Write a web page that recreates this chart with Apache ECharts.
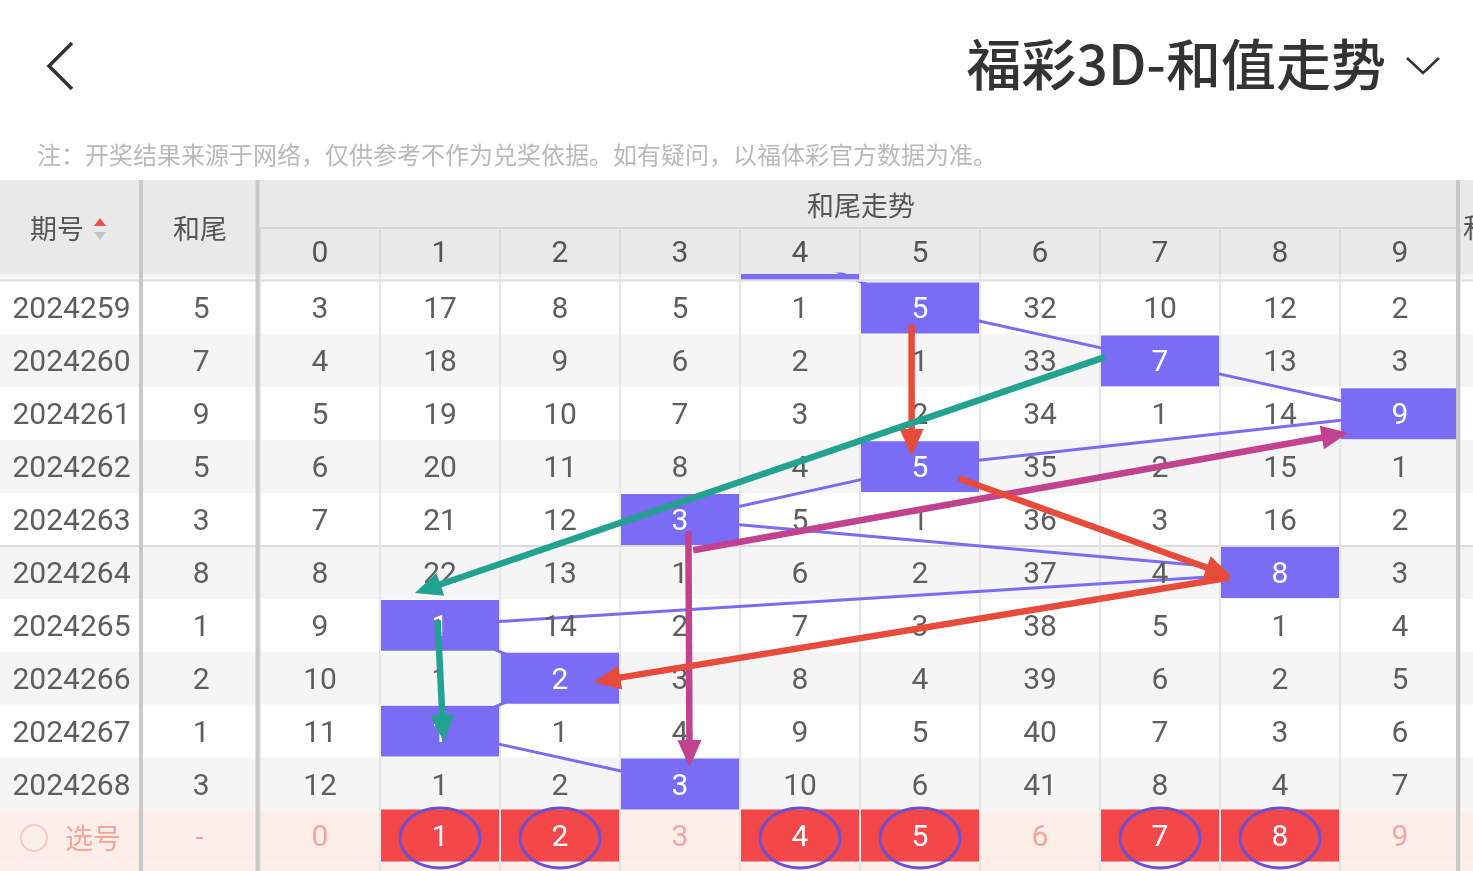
<!DOCTYPE html>
<html>
<head>
<meta charset="utf-8">
<script src="https://cdn.jsdelivr.net/npm/echarts@6/dist/echarts.min.js"></script>
<style>
  html, body { margin: 0; padding: 0; background: #fff; }
  #chart { width: 1473px; height: 871px; }
</style>
</head>
<body>
<div id="chart"></div>
<script>
// first row (2024258) sits under the sticky header, only its bottom edge peeks out
const issues = ['2024258', '2024259', '2024260', '2024261', '2024262', '2024263',
  '2024264', '2024265', '2024266', '2024267', '2024268'];
const tails = [4, 5, 7, 9, 5, 3, 8, 1, 2, 1, 3];
const omissions = [
  [2, 16, 7, 4, 4, 4, 31, 9, 11, 1],
  [3, 17, 8, 5, 1, 5, 32, 10, 12, 2],
  [4, 18, 9, 6, 2, 1, 33, 7, 13, 3],
  [5, 19, 10, 7, 3, 2, 34, 1, 14, 9],
  [6, 20, 11, 8, 4, 5, 35, 2, 15, 1],
  [7, 21, 12, 3, 5, 1, 36, 3, 16, 2],
  [8, 22, 13, 1, 6, 2, 37, 4, 8, 3],
  [9, 1, 14, 2, 7, 3, 38, 5, 1, 4],
  [10, 1, 2, 3, 8, 4, 39, 6, 2, 5],
  [11, 1, 1, 4, 9, 5, 40, 7, 3, 6],
  [12, 1, 2, 3, 10, 6, 41, 8, 4, 7]
];
const digitLabels = ['0', '1', '2', '3', '4', '5', '6', '7', '8', '9'];
const picked = [1, 2, 4, 5, 7, 8];
// hand-drawn arrows, in [column, row] units of the trend grid
const arrows = [
  { from: [5.43, 1.82], to: [5.43, 4.3], color: '#e84b39' },
  { from: [7.04, 2.43], to: [1.29, 6.89], color: '#22a291' },
  { from: [1.48, 7.4], to: [1.53, 9.7], color: '#22a291' },
  { from: [3.61, 6.08], to: [9.07, 3.86], color: '#c1428f' },
  { from: [3.57, 5.72], to: [3.58, 10.18], color: '#c1428f' },
  { from: [5.82, 4.72], to: [8.1, 6.58], color: '#e84b39' },
  { from: [8.07, 6.6], to: [2.78, 8.57], color: '#e84b39' }
];

const PICK_ROW = 11;
const numFont = 'Roboto, "Noto Sans", sans-serif';
const cjkFont = '"Noto Sans CJK SC", "Noto Sans", sans-serif';
const textGray = '#5e5e5e';

const chart = echarts.init(document.getElementById('chart'), null, { renderer: 'canvas' });

const rowIds = [];
for (let r = 0; r <= 12; r++) rowIds.push([0, r]);

function stripeItem(extend) {
  return function (params, api) {
    const r = api.value(1);
    const cs = params.coordSys;
    const top = Math.max(api.coord([0, r])[1], cs.y);
    const bottom = Math.min(api.coord([0, r + 1])[1], cs.y + cs.height);
    if (bottom <= top) return;
    const fill = r >= PICK_ROW ? '#fdeeea' : (r % 2 ? '#ffffff' : '#f5f5f5');
    const w = cs.width + extend;
    const children = [{ type: 'rect', shape: { x: cs.x, y: top, width: w, height: bottom - top }, style: { fill: fill } }];
    if (r === 6) {
      children.push({ type: 'line', shape: { x1: cs.x, y1: top, x2: cs.x + w, y2: top }, style: { stroke: '#dcdcdc', lineWidth: 2 } });
    }
    return { type: 'group', children: children };
  };
}

function txt(x, y, s, color, size, family) {
  return {
    type: 'text', x: x, y: y,
    style: { text: s, fill: color, fontSize: size, fontFamily: family, align: 'center', verticalAlign: 'middle' }
  };
}

const cellData = [];
omissions.forEach((row, r) => row.forEach((v, d) => cellData.push([d, r, v])));

function cellItem(params, api) {
  const d = api.value(0), r = api.value(1), v = api.value(2);
  const p0 = api.coord([d, r]), p1 = api.coord([d + 1, r + 1]);
  const hit = tails[r] === d;
  const children = [];
  if (hit) {
    children.push({ type: 'rect', shape: { x: p0[0] + 1, y: p0[1] + 1, width: p1[0] - p0[0] - 2, height: p1[1] - p0[1] - 2 }, style: { fill: '#7b6cf6' } });
  }
  children.push(txt((p0[0] + p1[0]) / 2, (p0[1] + p1[1]) / 2 + 3, String(v), hit ? '#ffffff' : textGray, 30, numFont));
  return { type: 'group', children: children };
}

function pickItem(params, api) {
  const d = api.value(0);
  const p0 = api.coord([d, PICK_ROW]), p1 = api.coord([d + 1, PICK_ROW + 1]);
  const on = picked.indexOf(d) >= 0;
  const children = [];
  if (on) {
    children.push({ type: 'rect', shape: { x: p0[0] + 1, y: p0[1] - 1, width: p1[0] - p0[0] - 2, height: p1[1] - p0[1] - 1 }, style: { fill: '#f4474a' } });
  }
  children.push(txt((p0[0] + p1[0]) / 2, (p0[1] + p1[1]) / 2 + 2, digitLabels[d], on ? '#ffffff' : '#f5a59c', 30, numFont));
  return { type: 'group', children: children };
}

function ringItem(params, api) {
  const d = api.value(0);
  const c = api.coord([d + 0.5, PICK_ROW + 0.5]);
  return { type: 'ellipse', shape: { cx: c[0], cy: c[1] + 1, rx: 40, ry: 30 }, style: { fill: 'none', stroke: '#6b4fd0', lineWidth: 3 } };
}

function arrowItem(params, api) {
  const a = api.coord([api.value(0), api.value(1)]);
  const b = api.coord([api.value(2), api.value(3)]);
  const color = arrows[params.dataIndex].color;
  const dx = b[0] - a[0], dy = b[1] - a[1];
  const len = Math.sqrt(dx * dx + dy * dy);
  const ux = dx / len, uy = dy / len;
  const head = 27, half = 12;
  const bx = b[0] - ux * head, by = b[1] - uy * head;
  return {
    type: 'group',
    children: [
      { type: 'line', shape: { x1: a[0], y1: a[1], x2: bx + ux * 2, y2: by + uy * 2 }, style: { stroke: color, lineWidth: 6.5 } },
      { type: 'polygon', shape: { points: [[b[0], b[1]], [bx - uy * half, by + ux * half], [bx + uy * half, by - ux * half]] }, style: { fill: color } }
    ]
  };
}

function leftItem(kind) {
  return function (params, api) {
    const r = api.value(1);
    const cs = params.coordSys;
    const p0 = api.coord([0, r]), p1 = api.coord([1, r + 1]);
    const cy = (p0[1] + p1[1]) / 2 + 3;
    if (r === PICK_ROW) {
      if (kind === 'issue') {
        return {
          type: 'group', children: [
            { type: 'circle', shape: { cx: cs.x + 34, cy: cy - 2, r: 13 }, style: { fill: 'none', stroke: '#f8c9c3', lineWidth: 2 } },
            txt(cs.x + 93, cy - 2, '选号', '#f4a59c', 28, cjkFont)
          ]
        };
      }
      return txt((p0[0] + p1[0]) / 2, cy - 1, '-', '#f4a59c', 28, numFont);
    }
    const s = kind === 'issue' ? issues[r] : String(tails[r]);
    return txt((p0[0] + p1[0]) / 2 + 2, cy, s, textGray, 30, numFont);
  };
}

const rowAxis = (i) => ({ type: 'value', gridIndex: i, inverse: true, min: 0.858, max: 12.144, show: false });
const colAxis = (i, max) => ({
  type: 'value', gridIndex: i, min: 0, max: max, interval: 1,
  axisLine: { show: false }, axisTick: { show: false }, axisLabel: { show: false },
  splitLine: { show: i === 2, lineStyle: { color: '#e0e0e0', width: 1.5 } }
});

const leftRows = [];
for (let r = 0; r <= PICK_ROW; r++) leftRows.push([0, r]);

const option = {
  backgroundColor: '#ffffff',
  animation: false,
  grid: [
    { left: 0, top: 274, width: 139, height: 597 },
    { left: 143, top: 274, width: 112.5, height: 597 },
    { left: 260, top: 274, width: 1200, height: 597 },
    { left: 260, top: 228, width: 1200, height: 46 }
  ],
  xAxis: [
    colAxis(0, 1), colAxis(1, 1), colAxis(2, 10),
    {
      type: 'category', gridIndex: 3, position: 'top', data: digitLabels,
      axisLine: { show: false }, axisTick: { show: false },
      axisLabel: { inside: true, interval: 0, margin: 11, fontSize: 30, color: '#555', fontFamily: numFont },
      splitLine: { show: true, interval: 0, lineStyle: { color: '#d4d4d4', width: 1.5 } }
    }
  ],
  yAxis: [rowAxis(0), rowAxis(1), rowAxis(2), { type: 'value', gridIndex: 3, show: false }],
  graphic: [
    { type: 'rect', z: -10, shape: { x: 0, y: 180, width: 1473, height: 94 }, style: { fill: '#e9e9e9' } },
    { type: 'line', z: 50, shape: { x1: 0, y1: 280.5, x2: 1473, y2: 280.5 }, style: { stroke: '#e2e2e2', lineWidth: 2.5 } },
    { type: 'line', z: 50, shape: { x1: 260, y1: 228, x2: 1460, y2: 228 }, style: { stroke: '#d6d6d6', lineWidth: 2 } },
    { type: 'rect', z: 50, shape: { x: 139, y: 180, width: 4, height: 691 }, style: { fill: '#c9c9c9' } },
    { type: 'rect', z: 50, shape: { x: 255.5, y: 180, width: 4, height: 691 }, style: { fill: '#c9c9c9' } },
    { type: 'rect', z: 50, shape: { x: 1456, y: 180, width: 4, height: 691 }, style: { fill: '#c9c9c9' } },
    { type: 'polyline', z: 50, shape: { points: [[72, 43], [49, 66], [72, 89]] }, style: { stroke: '#333', lineWidth: 3.5, fill: 'none' } },
    { type: 'text', z: 50, x: 1386, y: 64, style: { text: '福彩3D-和值走势', fill: '#333', fontSize: 55, fontWeight: 500, fontFamily: cjkFont, align: 'right', verticalAlign: 'middle' } },
    { type: 'polyline', z: 50, shape: { points: [[1407, 58], [1423, 73], [1439, 58]] }, style: { stroke: '#333', lineWidth: 2.5, fill: 'none' } },
    { type: 'text', z: 50, x: 37, y: 155, style: { text: '注：开奖结果来源于网络，仅供参考不作为兑奖依据。如有疑问，以福体彩官方数据为准。', fill: '#b9b9b9', fontSize: 24, fontFamily: cjkFont, align: 'left', verticalAlign: 'middle' } },
    { type: 'text', z: 50, x: 57, y: 229, style: { text: '期号', fill: '#555', fontSize: 27, fontFamily: cjkFont, align: 'center', verticalAlign: 'middle' } },
    { type: 'polygon', z: 50, shape: { points: [[94, 226], [100, 218], [106, 226]] }, style: { fill: '#ef5148' } },
    { type: 'polygon', z: 50, shape: { points: [[94, 232], [100, 240], [106, 232]] }, style: { fill: '#c4c4c4' } },
    { type: 'text', z: 50, x: 200, y: 229, style: { text: '和尾', fill: '#555', fontSize: 27, fontFamily: cjkFont, align: 'center', verticalAlign: 'middle' } },
    { type: 'text', z: 50, x: 861, y: 206, style: { text: '和尾走势', fill: '#555', fontSize: 27, fontFamily: cjkFont, align: 'center', verticalAlign: 'middle' } },
    { type: 'text', z: 50, x: 1463, y: 228, style: { text: '和值', fill: '#555', fontSize: 27, fontFamily: cjkFont, align: 'left', verticalAlign: 'middle' } }
  ],
  series: [
    { type: 'custom', name: 'stripes0', xAxisIndex: 0, yAxisIndex: 0, z: -1, clip: false, silent: true, data: rowIds, renderItem: stripeItem(4) },
    { type: 'custom', name: 'stripes1', xAxisIndex: 1, yAxisIndex: 1, z: -1, clip: false, silent: true, data: rowIds, renderItem: stripeItem(4.5) },
    { type: 'custom', name: 'stripes2', xAxisIndex: 2, yAxisIndex: 2, z: -1, clip: false, silent: true, data: rowIds, renderItem: stripeItem(20) },
    { type: 'custom', name: 'issue', xAxisIndex: 0, yAxisIndex: 0, z: 3, clip: true, silent: true, data: leftRows, renderItem: leftItem('issue') },
    { type: 'custom', name: 'tail', xAxisIndex: 1, yAxisIndex: 1, z: 3, clip: true, silent: true, data: leftRows, renderItem: leftItem('tail') },
    {
      type: 'line', name: 'trend', xAxisIndex: 2, yAxisIndex: 2, z: 2, clip: true, silent: true,
      symbol: 'none', lineStyle: { color: '#7a6cf4', width: 3 },
      data: tails.map((t, r) => [t + 0.5, r + 0.5])
    },
    { type: 'custom', name: 'cells', xAxisIndex: 2, yAxisIndex: 2, z: 3, clip: true, silent: true, data: cellData, renderItem: cellItem },
    { type: 'custom', name: 'pick', xAxisIndex: 2, yAxisIndex: 2, z: 3, clip: true, silent: true, data: digitLabels.map((s, d) => [d]), renderItem: pickItem },
    { type: 'custom', name: 'arrows', xAxisIndex: 2, yAxisIndex: 2, z: 5, clip: false, silent: true, data: arrows.map(a => [a.from[0], a.from[1], a.to[0], a.to[1]]), renderItem: arrowItem },
    { type: 'custom', name: 'rings', xAxisIndex: 2, yAxisIndex: 2, z: 6, clip: false, silent: true, data: picked.map(d => [d]), renderItem: ringItem }
  ]
};

chart.setOption(option);
</script>
</body>
</html>
